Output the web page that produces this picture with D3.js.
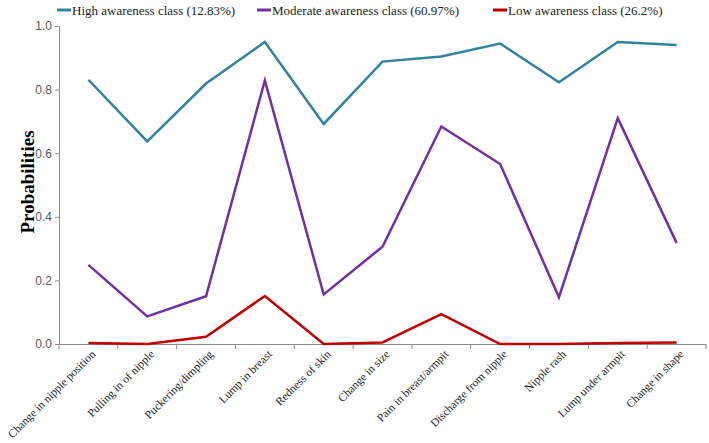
<!DOCTYPE html>
<html><head><meta charset="utf-8">
<script src="https://cdn.jsdelivr.net/npm/d3@7"></script>
<style>body{margin:0;background:#fff}svg{display:block}</style>
</head><body>
<script>
const categories = ["Change in nipple position","Pulling in of nipple","Puckering/dimpling","Lump in breast","Redness of skin","Change in size","Pain in breast/armpit","Discharge from nipple","Nipple rash","Lump under armpit","Change in shape"];
const seriesNames = ["High awareness class (12.83%)","Moderate awareness class (60.97%)","Low awareness class (26.2%)"];
const highValues = [0.831,0.637,0.819,0.950,0.692,0.888,0.904,0.945,0.823,0.950,0.940];
const moderateValues = [0.249,0.087,0.150,0.829,0.156,0.306,0.684,0.566,0.147,0.710,0.318];
const lowValues = [0.003,0.000,0.023,0.151,0.000,0.005,0.094,0.000,0.000,0.003,0.005];
const yTicks = [0,0.2,0.4,0.6,0.8,1.0];
const colors = ["#31849B","#7030A0","#C00000"];

const W=709,H=443;
const svg=d3.select("body").append("svg").attr("width",W).attr("height",H);
const x=d3.scaleBand().domain(categories).range([59,706]);
const y=d3.scaleLinear().domain([0,1]).range([344,26]);
const axisColor="#8c8c8c";

// y axis
const ya=svg.append("g").attr("transform","translate(59,0)")
  .call(d3.axisLeft(y).tickValues(yTicks).tickFormat(d3.format(".1f")).tickSize(4).tickSizeOuter(0));
ya.select(".domain").attr("stroke",axisColor);
ya.selectAll(".tick line").attr("stroke",axisColor);
ya.selectAll(".tick text").attr("fill","#595959").style("font-family","Liberation Sans, Arial, sans-serif").style("font-size","12px").attr("x",-7);

// x axis
const xa=svg.append("g").attr("transform","translate(0,344)")
  .call(d3.axisBottom(x).tickSize(0).tickSizeOuter(0));
xa.select(".domain").attr("stroke",axisColor);
xa.selectAll(".tick text").remove();
const bounds=categories.map(c=>x(c)).concat([x.range()[1]]);
xa.selectAll("line.bt").data(bounds).enter().append("line").attr("class","bt")
  .attr("x1",d=>d).attr("x2",d=>d).attr("y1",0).attr("y2",5).attr("stroke",axisColor);
xa.selectAll("text.cl").data(categories).enter().append("text").attr("class","cl")
  .attr("transform",d=>`translate(${x(d)+x.bandwidth()/2+5},8) rotate(-45)`)
  .attr("text-anchor","end").attr("dy","0.35em")
  .style("font-family","Liberation Serif, Times New Roman, serif").style("font-size","11.5px").attr("fill","#222")
  .text(d=>d);

// y title
svg.append("text").attr("transform","translate(27,182) rotate(-90)").attr("text-anchor","middle")
  .style("font-family","Liberation Serif, Times New Roman, serif").style("font-size","19px").style("font-weight","bold")
  .attr("dy","0.35em").text("Probabilities");

// lines
const line=d3.line().x((d,i)=>x(categories[i])+x.bandwidth()/2).y(d=>y(d));
[highValues,moderateValues,lowValues].forEach((vals,k)=>{
  svg.append("path").datum(vals).attr("d",line).attr("fill","none").attr("stroke",colors[k]).attr("stroke-width",2.5).attr("stroke-linejoin","miter");
});

// legend
const legX=[57,257,493];
const lg=svg.append("g");
seriesNames.forEach((n,k)=>{
  lg.append("line").attr("x1",legX[k]).attr("x2",legX[k]+14).attr("y1",10).attr("y2",10).attr("stroke",colors[k]).attr("stroke-width",3);
  lg.append("text").attr("x",legX[k]+15).attr("y",10).attr("dy","0.35em")
    .style("font-family","Liberation Serif, Times New Roman, serif").style("font-size","13px").attr("fill","#222").text(n);
});
</script>
</body></html>
